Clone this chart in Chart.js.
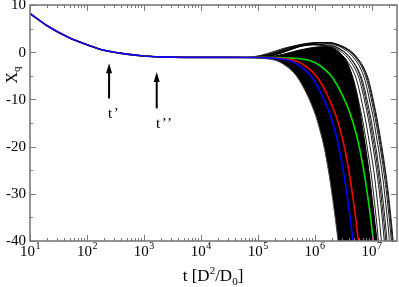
<!DOCTYPE html>
<html><head><meta charset="utf-8">
<script src="https://cdn.jsdelivr.net/npm/chart.js@4.4.0/dist/chart.umd.min.js"></script>
<style>html,body{margin:0;padding:0;background:#fff;}canvas{display:block;}</style>
</head><body>
<canvas id="c" width="399" height="287"></canvas>
<script>
// ---- data (t in units of D^2/D0, Xq) ----
// common early part shared by all curves
const earlyT  = [10,20,50,100,200,500,1e3,2e3,5e3,1e4,3e4];
const earlyXq = [8.2,5.6,3.0,1.6,0.4,-0.4,-0.8,-1.0,-1.1,-1.1,-1.1];

// descending curves: Xq levels and the times at which each curve reaches them
const dropXq = [-1.12,-1.25,-1.40,-1.80,-2.92,-4.83,-6.74,-9.17,-11.50,-13.83,-16.69,-19.34,-22.42,-26.02,-30.25,-34.92,-40.21,-46.14];
const blueT  = [9.7e4,1.64e5,2.47e5,3.70e5,5.53e5,8.30e5,1.06e6,1.35e6,1.65e6,1.94e6,2.28e6,2.58e6,2.91e6,3.29e6,3.71e6,4.19e6,4.73e6,5.33e6];
const redT   = [1.21e5,2.05e5,3.09e5,4.63e5,6.91e5,1.04e6,1.33e6,1.69e6,2.06e6,2.43e6,2.85e6,3.23e6,3.64e6,4.11e6,4.64e6,5.24e6,5.91e6,6.66e6];
const greenT = [2.22e5,3.76e5,5.66e5,8.47e5,1.27e6,1.90e6,2.43e6,3.09e6,3.78e6,4.44e6,5.22e6,5.91e6,6.66e6,7.53e6,8.50e6,9.60e6,1.08e7,1.22e7];
// left (earliest) edge of the black ensemble
const bandLeftT  = [5.6e4,9.4e4,1.45e5,2.15e5,3.15e5,4.65e5,5.9e5,7.5e5,9.1e5,1.07e6,1.25e6,1.42e6,1.60e6,1.80e6,2.03e6,2.29e6,2.59e6,2.91e6,3e7];
const bandLeftXq = [-1.12,-1.25,-1.40,-1.80,-2.92,-4.83,-6.74,-9.17,-11.50,-13.83,-16.69,-19.34,-22.42,-26.02,-30.25,-34.92,-40.21,-46.14,-400];
// right edge of the dense part of the ensemble
const bandRightT  = [9.7e4,2.01e5,3.70e5,5.53e5,8.30e5,1.24e6,1.87e6,2.38e6,3.03e6,3.71e6,4.36e6,4.92e6,5.55e6,6.15e6,6.80e6,7.68e6,8.67e6,9.59e6,1.06e7,1.15e7,1.25e7,1.35e7,3e7];
const bandRightXq = [-1.12,-0.81,-0.06,0.47,0.89,1.14,1.10,0.47,-0.59,-2.08,-4.19,-6.53,-9.28,-12.0,-15.3,-19.35,-23.7,-27.9,-32.5,-36.2,-40.0,-43.8,-200];

// late curves that first rise above the plateau
const humpXq    = [-1.12,-0.59,0.47,1.21,1.74,1.99,2.01,1.63,0.89,-0.17,-1.65,-3.35,-5.47,-7.90,-10.76,-14.05,-17.65,-21.57,-26.02,-30.25,-34.07,-38.09,-42.12,-45.93];
const lowHumpXq = [-1.12,-0.7,0.25,0.9,1.35,1.6,1.6,1.3,0.6,-0.4,-1.9,-3.6,-5.6,-8.0,-10.8,-14.05,-17.65,-21.57,-26.02,-30.25,-34.07,-38.09,-42.12,-45.93];
const strandT = [
  [5.3e4,1.11e5,2.04e5,3.04e5,4.57e5,6.82e5,1.03e6,1.42e6,1.96e6,2.60e6,3.32e6,4.06e6,4.77e6,5.38e6,6.05e6,6.88e6,7.76e6,8.75e6,9.9e6,1.09e7,1.18e7,1.28e7,1.36e7,1.45e7],
  [6.0e4,1.25e5,2.29e5,3.43e5,5.15e5,7.7e5,1.16e6,1.60e6,2.21e6,2.93e6,3.74e6,4.58e6,5.38e6,6.07e6,6.82e6,7.75e6,8.74e6,9.86e6,1.12e7,1.23e7,1.33e7,1.44e7,1.54e7,1.64e7],
  [6.8e4,1.41e5,2.59e5,3.87e5,5.81e5,8.7e5,1.31e6,1.81e6,2.49e6,3.31e6,4.22e6,5.17e6,6.07e6,6.85e6,7.7e6,8.75e6,9.87e6,1.11e7,1.26e7,1.39e7,1.51e7,1.62e7,1.74e7,1.85e7],
  [7.2e4,1.49e5,2.74e5,4.09e5,6.14e5,9.18e5,1.38e6,1.91e6,2.63e6,3.50e6,4.46e6,5.46e6,6.42e6,7.24e6,8.14e6,9.25e6,1.04e7,1.18e7,1.33e7,1.47e7,1.59e7,1.72e7,1.84e7,1.95e7],
  [7.6e4,1.57e5,2.89e5,4.31e5,6.47e5,9.7e5,1.46e6,2.01e6,2.78e6,3.69e6,4.70e6,5.76e6,6.76e6,7.64e6,8.58e6,9.75e6,1.10e7,1.24e7,1.40e7,1.55e7,1.68e7,1.81e7,1.93e7,2.06e7],
  [8.3e4,1.73e5,3.18e5,4.76e5,7.14e5,1.07e6,1.61e6,2.22e6,3.06e6,4.07e6,5.19e6,6.35e6,7.46e6,8.42e6,9.46e6,1.08e7,1.21e7,1.37e7,1.55e7,1.71e7,1.85e7,2.00e7,2.13e7,2.27e7],
  [9.0e4,1.87e5,3.44e5,5.14e5,7.72e5,1.15e6,1.74e6,2.40e6,3.31e6,4.40e6,5.61e6,6.86e6,8.06e6,9.10e6,1.02e7,1.16e7,1.31e7,1.48e7,1.67e7,1.85e7,2.00e7,2.16e7,2.31e7,2.46e7],
  [9.4e4,1.95e5,3.59e5,5.36e5,8.05e5,1.20e6,1.81e6,2.50e6,3.45e6,4.59e6,5.85e6,7.16e6,8.41e6,9.50e6,1.07e7,1.21e7,1.37e7,1.54e7,1.75e7,1.93e7,2.09e7,2.25e7,2.41e7,2.56e7],
  [9.7e4,2.01e5,3.70e5,5.53e5,8.30e5,1.24e6,1.87e6,2.58e6,3.56e6,4.73e6,6.03e6,7.38e6,8.67e6,9.79e6,1.10e7,1.25e7,1.41e7,1.59e7,1.80e7,1.99e7,2.15e7,2.32e7,2.48e7,2.64e7]
];
const strandHighHump = [false,false,false,true,false,true,true,true,true];

// axes
const xMajorTicks = [10,1e2,1e3,1e4,1e5,1e6,1e7];
const xExponents  = ['1','2','3','4','5','6','7'];
const yMajorTicks = [10,0,-10,-20,-30,-40];
const yMinorTicks = [5,-5,-15,-25,-35];
// arrows (data coordinates)
const arrows = [
  {t:245,  yTip:-2.35, yBase:-9.8,  label:"t\u2019",       labelT:245,  labelY:-13.9},
  {t:1683, yTip:-4.2,  yBase:-11.9, label:"t\u2019\u2019", labelT:1700, labelY:-16.1}
];

// ---- build datasets ----
const pts = (ts, ys) => { const X = earlyT.concat(ts), Y = earlyXq.concat(ys); return X.map((x,i)=>({x, y:Y[i]})); };
const base = {pointRadius:0, cubicInterpolationMode:'monotone', fill:false};
const ds = (o) => Object.assign({}, base, o);

const datasets = [
  ds({data:pts(bandLeftT, bandLeftXq), borderColor:'#444', borderWidth:1, backgroundColor:'#000', fill:'+1', order:10}),
  ds({data:pts(bandRightT, bandRightXq), borderColor:'#000', borderWidth:1, order:9})
];
strandT.forEach((ts,k)=>datasets.push(ds({data:pts(ts, strandHighHump[k]?humpXq:lowHumpXq), borderColor:'#000', borderWidth:0.9, order:8})));
datasets.push(ds({data:pts(greenT, dropXq), borderColor:'#00e000', borderWidth:1.6, order:3}));
datasets.push(ds({data:pts(redT,   dropXq), borderColor:'#ff0000', borderWidth:1.6, order:2}));
datasets.push(ds({data:pts(blueT,  dropXq), borderColor:'#0000ff', borderWidth:1.6, order:1}));

const SERIF = '"Liberation Serif","Times New Roman",serif';

const deco = {
  id:'deco',
  afterDraw(chart){
    const ctx = chart.ctx, a = chart.chartArea, xs = chart.scales.x, ys = chart.scales.y;
    ctx.save();
    const line = (x1,y1,x2,y2)=>{ctx.beginPath();ctx.moveTo(x1,y1);ctx.lineTo(x2,y2);ctx.stroke();};
    ctx.strokeStyle = '#7a7a7a';
    ctx.lineWidth = 1;
    xMajorTicks.forEach(d=>{
      const px = Math.round(xs.getPixelForValue(d))+0.5;
      line(px,a.bottom,px,a.bottom-6); line(px,a.top,px,a.top+6);
      for(let m=2;m<=9;m++){
        const v = d*m; if(v>xs.max) break;
        const q = Math.round(xs.getPixelForValue(v))+0.5;
        line(q,a.bottom,q,a.bottom-3); line(q,a.top,q,a.top+3);
      }
    });
    yMajorTicks.forEach(v=>{
      const py = Math.round(ys.getPixelForValue(v))+0.5;
      line(a.left,py,a.left+6,py); line(a.right,py,a.right-6,py);
    });
    yMinorTicks.forEach(v=>{
      const py = Math.round(ys.getPixelForValue(v))+0.5;
      line(a.left,py,a.left+3,py); line(a.right,py,a.right-3,py);
    });
    ctx.lineWidth = 1.6;
    ctx.strokeRect(a.left,a.top,a.right-a.left,a.bottom-a.top);

    ctx.fillStyle = '#000';
    ctx.font = '15px '+SERIF;
    ctx.textAlign = 'right'; ctx.textBaseline = 'middle';
    yMajorTicks.forEach(v=>ctx.fillText(String(v), a.left-4, ys.getPixelForValue(v)+0.5));

    ctx.textAlign = 'left'; ctx.textBaseline = 'alphabetic';
    xMajorTicks.forEach((d,i)=>{
      const px = xs.getPixelForValue(d);
      ctx.font = '15px '+SERIF; const w1 = ctx.measureText('10').width;
      ctx.font = '10px '+SERIF; const w2 = ctx.measureText(xExponents[i]).width;
      const x0 = px - (w1+w2)/2;
      ctx.font = '15px '+SERIF; ctx.fillText('10', x0, a.bottom+15);
      ctx.font = '10px '+SERIF; ctx.fillText(xExponents[i], x0+w1+0.5, a.bottom+8);
    });
    // x title
    const parts = [['t [D',17,0],['2',11,-7],['/D',17,0],['0',11,4],[']',17,0]];
    let tw = 0; parts.forEach(p=>{ctx.font=p[1]+'px '+SERIF; p.push(ctx.measureText(p[0]).width); tw+=p[3];});
    let cx = 213 - tw/2;
    parts.forEach(p=>{ctx.font=p[1]+'px '+SERIF; ctx.fillText(p[0], cx, 281+p[2]); cx+=p[3];});
    // y title
    ctx.save();
    ctx.translate(16.5, 75); ctx.rotate(-Math.PI/2);
    ctx.font = '16px '+SERIF; const wX = ctx.measureText('X').width;
    ctx.font = '11px '+SERIF; const wq = ctx.measureText('q').width;
    const sx = -(wX+wq)/2;
    ctx.font = '16px '+SERIF; ctx.fillText('X', sx, 0);
    ctx.font = '11px '+SERIF; ctx.fillText('q', sx+wX, 3);
    ctx.restore();
    // arrows
    arrows.forEach(ar=>{
      const x = xs.getPixelForValue(ar.t), yt = ys.getPixelForValue(ar.yTip), yb = ys.getPixelForValue(ar.yBase);
      ctx.strokeStyle = '#000'; ctx.lineWidth = 2;
      line(x, yb, x, yt+8);
      ctx.beginPath(); ctx.moveTo(x, yt); ctx.lineTo(x-3, yt+10); ctx.lineTo(x+3, yt+10); ctx.closePath(); ctx.fill();
      ctx.font = '15px '+SERIF; ctx.textAlign='left';
      if ('letterSpacing' in ctx) ctx.letterSpacing = '1.5px';
      ctx.fillText(ar.label, xs.getPixelForValue(ar.labelT)-1, ys.getPixelForValue(ar.labelY));
      if ('letterSpacing' in ctx) ctx.letterSpacing = '0px';
    });
    ctx.restore();
  }
};

new Chart(document.getElementById('c'), {
  type:'line',
  data:{datasets},
  options:{
    responsive:false, animation:false, devicePixelRatio:1,
    layout:{padding:{top:5,right:2,left:0,bottom:0}},
    plugins:{legend:{display:false}, tooltip:{enabled:false}},
    scales:{
      x:{type:'logarithmic', min:10, max:2.8e7, grid:{display:false}, border:{display:false}, ticks:{display:false},
         afterFit:s=>{s.height=46;}},
      y:{type:'linear', min:-40, max:10, grid:{display:false}, border:{display:false}, ticks:{display:false},
         afterFit:s=>{s.width=30;}}
    }
  },
  plugins:[deco]
});
</script>
</body></html>
